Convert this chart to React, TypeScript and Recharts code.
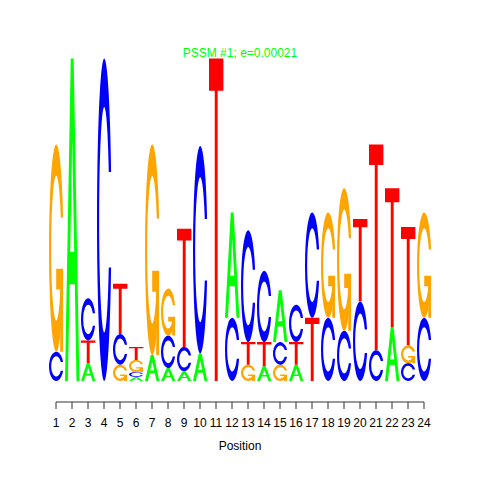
import { Bar, BarChart, XAxis, YAxis } from 'recharts'

// Information content (bits) of each base at each motif position,
// read off the logo. Zero means the base is not drawn.
const positions = [1, 2, 3, 4, 5, 6, 7, 8, 9, 10, 11, 12, 13, 14, 15, 16, 17, 18, 19, 20, 21, 22, 23, 24]
const bitsA = [0, 1.99, 0.11, 0, 0, 0.025, 0.16, 0.08, 0.06, 0.17, 0, 0.65, 0, 0.09, 0.32, 0.1, 0, 0, 0, 0, 0, 0.33, 0, 0]
const bitsC = [0.18, 0, 0.26, 1.99, 0.19, 0.03, 0, 0.2, 0.15, 1.28, 0, 0.39, 0.69, 0.44, 0.14, 0.23, 0.65, 0.39, 0.31, 0.49, 0.19, 0, 0.11, 0.39]
const bitsG = [1.28, 0, 0, 0, 0.1, 0.075, 1.3, 0.29, 0, 0, 0, 0, 0.1, 0, 0.1, 0, 0, 0.65, 0.88, 0, 0, 0, 0.11, 0.65]
const bitsT = [0, 0, 0.14, 0, 0.31, 0.08, 0, 0, 0.73, 0, 1.99, 0, 0.14, 0.15, 0, 0.14, 0.39, 0, 0, 0.51, 1.27, 0.86, 0.73, 0]

const title = 'PSSM #1; e=0.00021'

type Base = 'A' | 'C' | 'G' | 'T'

const BASE_BITS: Record<Base, number[]> = { A: bitsA, C: bitsC, G: bitsG, T: bitsT }

// classic seqLogo palette
const BASE_COLOR: Record<Base, string> = {
  A: '#00ff00',
  C: '#0000ff',
  G: '#ffa500',
  T: '#ff0000',
}

const LAYERS = [0, 1, 2, 3]

// each column is stacked smallest letter first, so layer k holds the k-th smallest
const rows = positions.map((pos, i) => {
  const letters = (Object.keys(BASE_BITS) as Base[])
    .map((b) => ({ b, h: BASE_BITS[b][i] }))
    .filter((d) => d.h > 0)
    .sort((a, b) => a.h - b.h)
  const row: Record<string, number | string> = { pos }
  LAYERS.forEach((k) => {
    row[`h${k}`] = letters[k] ? letters[k].h : 0
    row[`l${k}`] = letters[k] ? letters[k].b : ''
  })
  return row
})

// glyph outlines follow seqLogo's polygons, in a unit box (v grows downwards)
function Glyph({ base, x, y, w, h }: { base: Base; x: number; y: number; w: number; h: number }) {
  const p = (u: number, v: number) => `${x + u * w},${y + v * h}`
  const fill = BASE_COLOR[base]
  const ring =
    `M ${p(0.978, 0.648)} A ${0.5 * w} ${0.5 * h} 0 1 1 ${p(0.978, 0.352)} ` +
    `L ${p(0.817, 0.352)} A ${0.35 * w} ${0.35 * h} 0 1 0 ${p(0.817, 0.648)} Z`

  if (base === 'A') {
    const d =
      `M ${p(0, 1)} L ${p(0.4, 0)} L ${p(0.6, 0)} L ${p(1, 1)} L ${p(0.8, 1)} L ${p(0.68, 0.7)} L ${p(0.32, 0.7)} L ${p(0.2, 1)} Z ` +
      `M ${p(0.36, 0.6)} L ${p(0.5, 0.25)} L ${p(0.64, 0.6)} Z`
    return <path d={d} fill={fill} fillRule="evenodd" />
  }
  if (base === 'T') {
    const d = `M ${p(0, 0)} L ${p(1, 0)} L ${p(1, 0.1)} L ${p(0.6, 0.1)} L ${p(0.6, 1)} L ${p(0.4, 1)} L ${p(0.4, 0.1)} L ${p(0, 0.1)} Z`
    return <path d={d} fill={fill} />
  }
  if (base === 'G') {
    const bar = `M ${p(0.978, 0.6)} L ${p(0.5, 0.6)} L ${p(0.5, 0.7)} L ${p(0.778, 0.7)} L ${p(0.778, 1)} L ${p(0.978, 1)} Z`
    return (
      <g>
        <path d={ring} fill={fill} />
        <path d={bar} fill={fill} />
      </g>
    )
  }
  return <path d={ring} fill={fill} />
}

function letterShape(layer: number) {
  return (props: any) => {
    const { x, y, width, height, payload } = props
    const base = payload?.[`l${layer}`] as Base | ''
    if (!base || !height || height <= 0) return <g />
    return <Glyph base={base} x={x} y={y} w={width} h={height} />
  }
}

export default function App() {
  return (
    <div
      style={{
        position: 'absolute',
        left: 0,
        top: 0,
        width: 480,
        height: 480,
        background: '#fff',
        fontFamily: '"Liberation Sans", Arial, sans-serif',
      }}
    >
      <div
        style={{
          position: 'absolute',
          left: 0,
          top: 46,
          width: 480,
          textAlign: 'center',
          fontSize: 12,
          lineHeight: '14px',
          color: '#00ff00',
        }}
      >
        {title}
      </div>
      <BarChart
        width={480}
        height={480}
        data={rows}
        margin={{ top: 57, right: 56, bottom: 30, left: 56 }}
        barCategoryGap={0}
        barGap={0}
      >
        <XAxis
          type="number"
          dataKey="pos"
          domain={[1, 24]}
          ticks={positions}
          interval={0}
          height={48}
          tickSize={7}
          tickMargin={9}
          axisLine={{ stroke: '#333' }}
          tickLine={{ stroke: '#333' }}
          tick={{ fill: '#000', fontSize: 12 }}
          label={{ value: 'Position', position: 'insideBottom', offset: 0, fill: '#000', fontSize: 12 }}
        />
        <YAxis hide type="number" domain={[-0.13, 2]} />
        {LAYERS.map((k) => (
          <Bar
            key={k}
            dataKey={`h${k}`}
            stackId="logo"
            barSize={16}
            shape={letterShape(k)}
            isAnimationActive={false}
          />
        ))}
      </BarChart>
    </div>
  )
}
